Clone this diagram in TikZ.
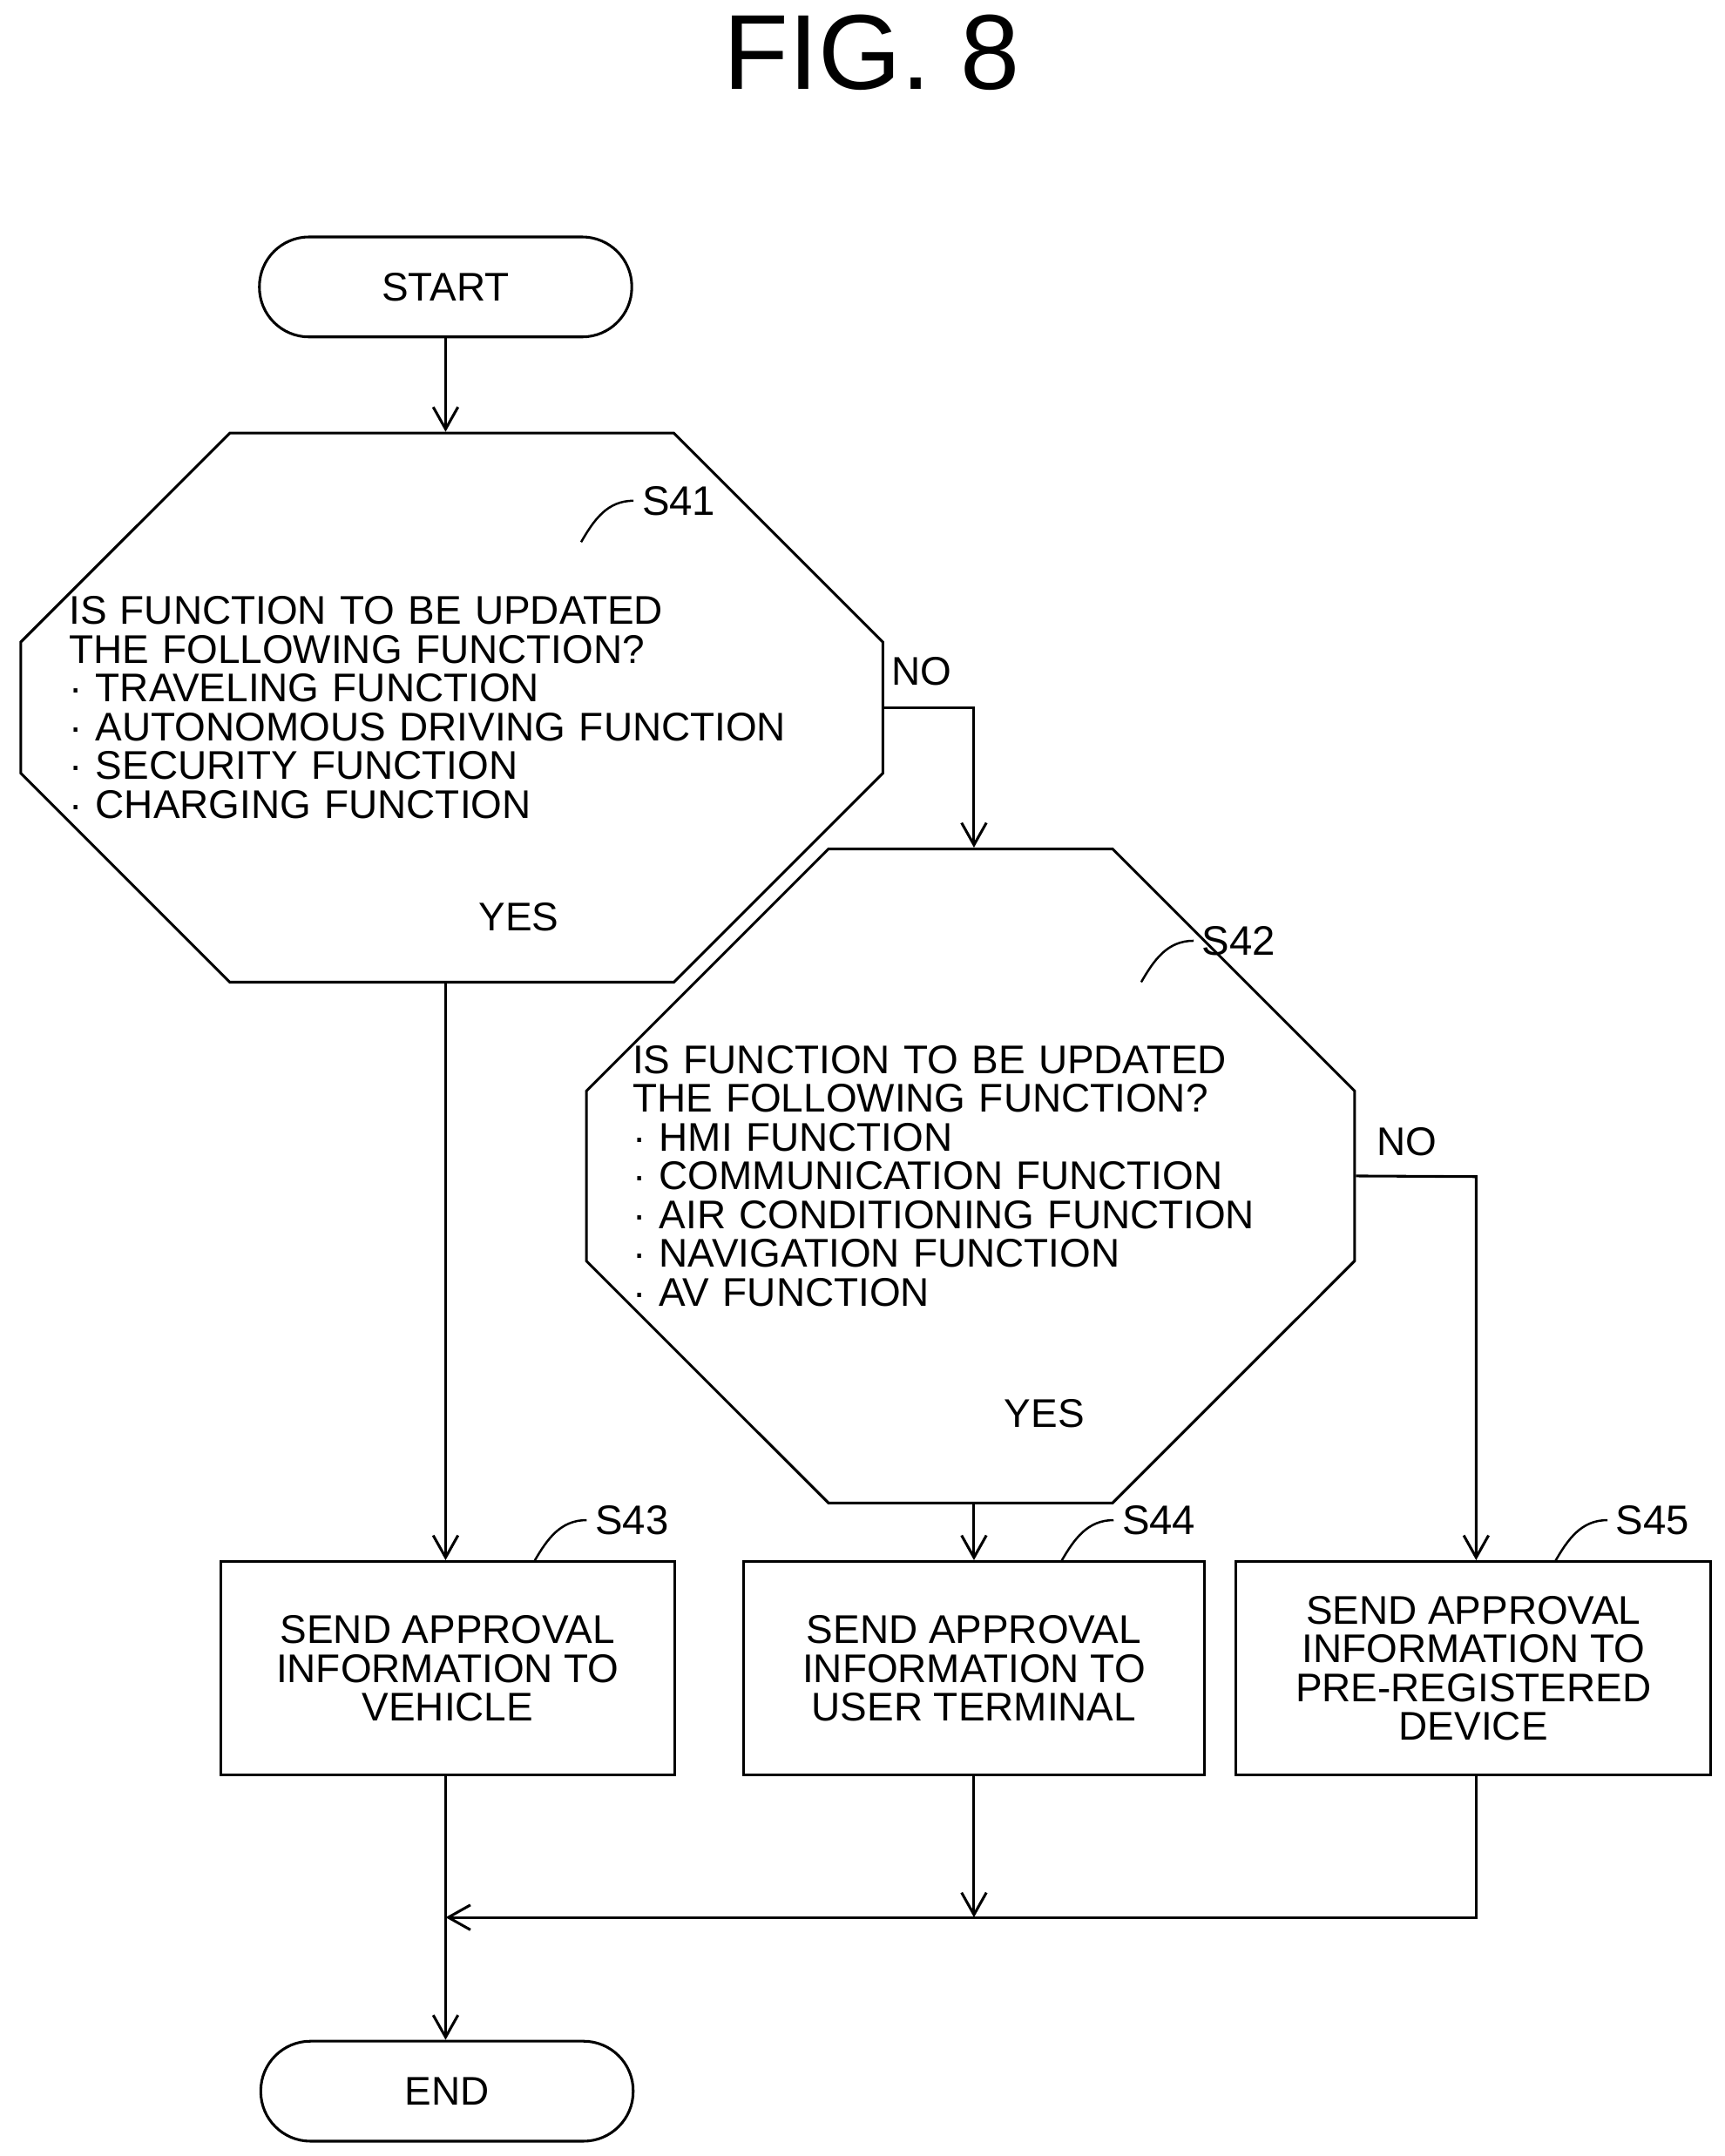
\documentclass[tikz,border=0pt]{standalone}
\usepackage{fontspec}
\setmainfont{Liberation Sans}
\usetikzlibrary{arrows.meta,shapes.misc,positioning}

\begin{document}
\begin{tikzpicture}[x=0.02cm,y=-0.02cm,font=\fontsize{16.5}{16}\selectfont]
\tikzset{
    %Define standard arrow tip
    >={Straight Barb[length=3.2mm,width=3.6mm]},
    %Define style for terminals
    term/.style={
           rectangle,
           rounded corners=0.72cm,
           draw=black, line width=1.1pt,
           minimum width=5.4cm,
           minimum height=1.45cm},
    %Define style for decisions
    dec/.style={
           chamfered rectangle,
           draw=black, line width=1.1pt,
           chamfered rectangle xsep=0.66cm,
           align=left,
           inner sep=0pt},
    %Define style for process boxes
    proc/.style={
           rectangle,
           draw=black, line width=1.1pt,
           minimum height=3.1cm,
           align=center},
    % Define arrow style
    pil/.style={
           ->,
           line width=1.1pt},
    lin/.style={line width=1.1pt},
    tag/.style={font=\fontsize{17}{17}\selectfont}
}
	\path[use as bounding box] (0,0) rectangle (1250,1563);

	\node[font=\fontsize{44}{44}\selectfont] (title) at (632,38) {FIG. 8};

 %nodes
	\node[term] (start) at (323,208) {START};

	\node[dec,minimum width=12.5cm,minimum height=4.74cm,
	      chamfered rectangle ysep=2.37cm,text width=11.1cm] (s41) at (327.5,513)
	      {IS FUNCTION TO BE UPDATED\\THE FOLLOWING FUNCTION?\\
	       \textperiodcentered\ TRAVELING FUNCTION\\
	       \textperiodcentered\ AUTONOMOUS DRIVING FUNCTION\\
	       \textperiodcentered\ SECURITY FUNCTION\\
	       \textperiodcentered\ CHARGING FUNCTION};

	\node[dec,minimum width=11.14cm,minimum height=5.7cm,
	      chamfered rectangle ysep=2.85cm,text width=9.8cm] (s42) at (703.5,852.5)
	      {IS FUNCTION TO BE UPDATED\\THE FOLLOWING FUNCTION?\\
	       \textperiodcentered\ HMI FUNCTION\\
	       \textperiodcentered\ COMMUNICATION FUNCTION\\
	       \textperiodcentered\ AIR CONDITIONING FUNCTION\\
	       \textperiodcentered\ NAVIGATION FUNCTION\\
	       \textperiodcentered\ AV FUNCTION};

	\node[proc,minimum width=6.58cm] (s43) at (324.5,1209.5) {SEND APPROVAL\\INFORMATION TO\\VEHICLE};
	\node[proc,minimum width=6.68cm] (s44) at (706,1209.5) {SEND APPROVAL\\INFORMATION TO\\USER TERMINAL};
	\node[proc,minimum width=6.88cm] (s45) at (1068,1209.5) {SEND APPROVAL\\INFORMATION TO\\PRE-REGISTERED\\DEVICE};

	\node[term] (stop) at (324,1516) {END};

 %step tags
	\node[tag] (t41) at (492,363) {S41};
	\node[tag] (t42) at (898,682) {S42};
	\node[tag] (t43) at (458,1102) {S43};
	\node[tag] (t44) at (840,1102) {S44};
	\node[tag] (t45) at (1198,1102) {S45};
	\foreach \t in {t41,t42,t43,t44,t45}
		\draw[line width=0.9pt] (\t.west) to[out=180,in=60] ++(-38,30);

 %labels
	\node (no1) at (668,487) {NO};
	\node (yes1) at (376,665) {YES};
	\node (no2) at (1020,828) {NO};
	\node (yes2) at (757,1025) {YES};

 %connectors
	\coordinate (j1) at (706,513);
	\coordinate (j2) at (1070,853);
	\coordinate (m44) at (706,1390);
	\coordinate (m45) at (1070,1390);
	\coordinate (m43) at (323,1390);

	\draw[pil] (start.south) -- (s41.north -| start.south);
	\draw[pil] (s41.south -| start.south) -- (s43.north -| start.south);
	\draw[pil] (s41.east) -- (j1) -- (s42.north -| j1);
	\draw[pil] (s42.south -| j1) -- (s44.north -| j1);
	\draw[pil] (s42.east) -- (j2) -- (s45.north -| j2);
	\draw[pil] (s44.south) -- (m44);
	\draw[pil] (s45.south -| j2) -- (m45) -- (m43);
	\draw[pil] (s43.south -| start.south) -- (stop.north -| start.south);

\end{tikzpicture}
\end{document}
